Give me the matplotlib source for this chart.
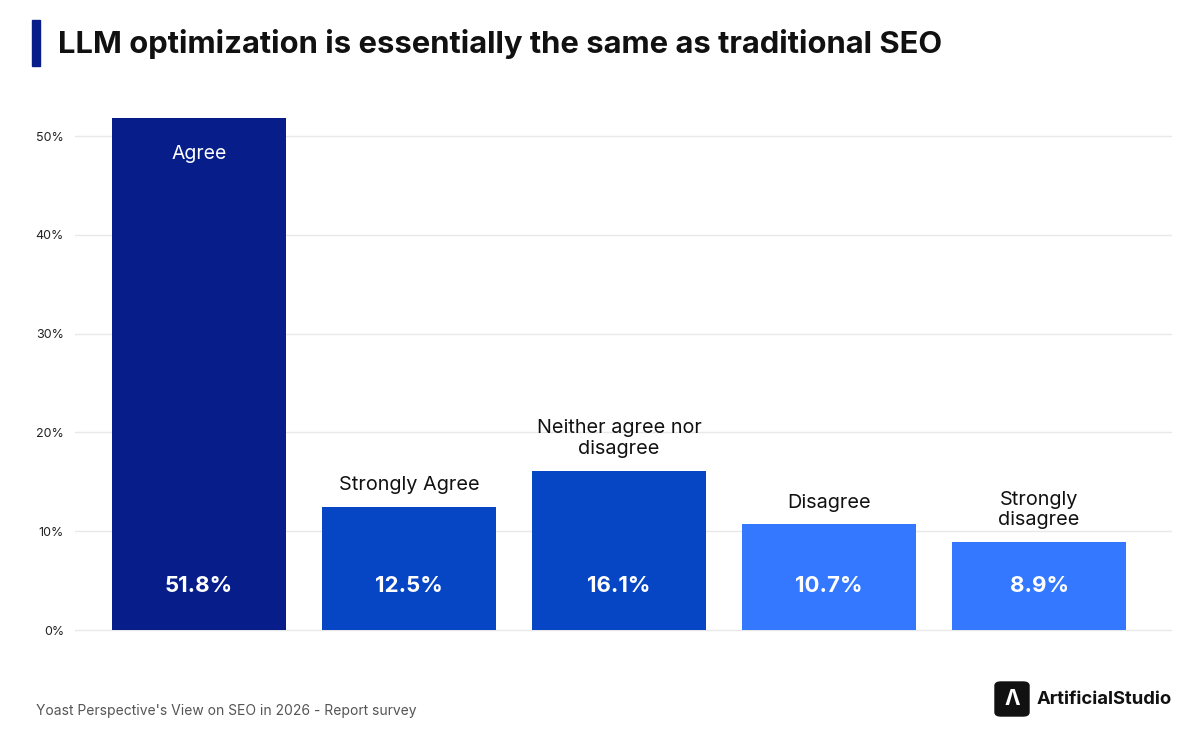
import matplotlib.pyplot as plt
from matplotlib.patches import Rectangle, FancyBboxPatch

plt.rcParams['font.family'] = ['Inter', 'DejaVu Sans']

categories = ['Agree', 'Strongly Agree', 'Neither agree nor\ndisagree', 'Disagree', 'Strongly\ndisagree']
values = [51.8, 12.5, 16.1, 10.7, 8.9]
colors = ['#061d8a', '#0646c4', '#0646c4', '#3378ff', '#3378ff']
yticks = [0, 10, 20, 30, 40, 50]

fig = plt.figure(figsize=(11.98, 7.39), dpi=100)
ax = fig.add_axes([0.0626, 0.1407, 0.9157, 0.7153])

x = range(len(categories))
ax.bar(x, values, width=0.83, color=colors, zorder=2)
for i, (c, v) in enumerate(zip(categories, values)):
    ax.text(i, 4.5, f'{v}%', ha='center', va='center', color='white',
            fontsize=16, fontweight='bold', zorder=3)
    if i == 0:
        ax.text(i, v - 3.6, c, ha='center', va='center', color='white', fontsize=14, zorder=3)
    else:
        ax.text(i, v + 1.3, c, ha='center', va='bottom', color='#111111', fontsize=14.3,
                linespacing=1.2, zorder=3)

ax.set_xlim(-0.59, 4.633)
ax.set_ylim(-0.5, 53)
ax.set_yticks(yticks)
ax.set_yticklabels([f'{t}%' for t in yticks], fontsize=9, color='#222222')
ax.set_xticks([])
ax.tick_params(axis='y', length=0, pad=8)
ax.grid(axis='y', color='#e8e8e8', linewidth=1, zorder=0)
for s in ax.spines.values():
    s.set_visible(False)

# title
fig.patches.append(Rectangle((32 / 1198, 1 - 66 / 739), 8 / 1198, 46 / 739,
                             transform=fig.transFigure, color='#061d8a'))
fig.text(58 / 1198, 1 - 44 / 739, 'LLM optimization is essentially the same as traditional SEO',
         fontsize=22.3, fontweight='bold', va='center', color='#111111')

# footer
fig.text(36 / 1198, 1 - 711 / 739, "Yoast Perspective's View on SEO in 2026 - Report survey",
         fontsize=10, color='#555555', va='center')
fig.patches.append(FancyBboxPatch((995 / 1198, 1 - 716 / 739), 34 / 1198, 34 / 739,
                                  boxstyle='round,pad=0,rounding_size=0.005',
                                  transform=fig.transFigure, color='#111111'))
fig.text(1012 / 1198, 1 - 699 / 739, 'Λ', color='white', fontsize=15, fontweight='bold',
         ha='center', va='center')
fig.text(1037 / 1198, 1 - 699 / 739, 'ArtificialStudio', fontsize=13.3, fontweight='bold',
         color='#111111', va='center')

fig.savefig('out.png', dpi=100)
